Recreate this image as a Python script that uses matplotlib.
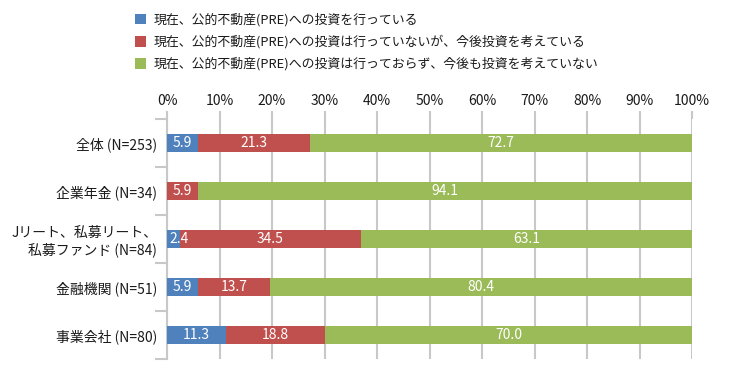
import matplotlib
matplotlib.use("Agg")
import matplotlib.pyplot as plt
from matplotlib.patches import Patch

plt.rcParams['font.family'] = ['Noto Sans CJK JP', 'DejaVu Sans']

# Data
categories = ["全体 (N=253)", "企業年金 (N=34)", "Jリート、私募リート、\n私募ファンド (N=84)",
              "金融機関 (N=51)", "事業会社 (N=80)"]
series_names = ["現在、公的不動産(PRE)への投資を行っている",
                "現在、公的不動産(PRE)への投資は行っていないが、今後投資を考えている",
                "現在、公的不動産(PRE)への投資は行っておらず、今後も投資を考えていない"]
doing = [5.9, 0.0, 2.4, 5.9, 11.3]
considering = [21.3, 5.9, 34.5, 13.7, 18.8]
not_considering = [72.7, 94.1, 63.1, 80.4, 70.0]
x_ticks = [0, 10, 20, 30, 40, 50, 60, 70, 80, 90, 100]

COLORS = ["#4F81BD", "#C0504D", "#9BBB59"]
GRID_COLOR = "#C8C8C8"
TEXT_COLOR = "#1A1A1A"
BAR_HEIGHT = 0.36

fig = plt.figure(figsize=(7.3, 3.78), dpi=100)
ax = fig.add_axes([0.2288, 0.0503, 0.7192, 0.6349])

y = list(range(len(categories)))
left = [0.0] * len(categories)
for vals, color in zip([doing, considering, not_considering], COLORS):
    ax.barh(y, vals, left=left, height=BAR_HEIGHT, color=color, zorder=3)
    for yi, (l, v) in enumerate(zip(left, vals)):
        if v > 0:
            # keep narrow-segment labels from spilling past the axis start
            xc = max(l + v / 2, l + 2.3)
            ax.text(xc, yi, f"{v:.1f}", ha="center", va="center",
                    color="white", fontsize=10, zorder=4)
    left = [a + b for a, b in zip(left, vals)]

ax.set_xlim(0, 100)
ax.set_ylim(len(categories) - 0.5, -0.5)

# x axis on top with percent labels
ax.xaxis.tick_top()
ax.set_xticks(x_ticks)
ax.set_xticklabels([f"{t}%" for t in x_ticks])
ax.tick_params(axis="x", length=6, width=1.5, color=GRID_COLOR, labelsize=10,
               pad=2, labelcolor=TEXT_COLOR)
ax.grid(axis="x", color=GRID_COLOR, linewidth=1.5, zorder=0)

# y axis: category labels, tick marks at boundaries
ax.set_yticks(y)
ax.set_yticklabels(categories, fontsize=10, color=TEXT_COLOR)
ax.set_yticks([i - 0.5 for i in range(len(categories) + 1)], minor=True)
ax.tick_params(axis="y", which="major", length=0, pad=7)
ax.tick_params(axis="y", which="minor", length=9, width=1.5, color=GRID_COLOR)

for side in ["top", "right", "bottom"]:
    ax.spines[side].set_visible(False)
ax.spines["left"].set_color(GRID_COLOR)
ax.spines["left"].set_linewidth(1.5)

handles = [Patch(facecolor=c, edgecolor="none") for c in COLORS]
fig.legend(handles, series_names, loc="upper left", bbox_to_anchor=(0.178, 0.979),
           frameon=False, fontsize=9.3, handlelength=0.85, handleheight=0.85,
           handletextpad=0.55, labelspacing=0.66, borderaxespad=0,
           labelcolor=TEXT_COLOR)

fig.savefig("out.png", dpi=100)
